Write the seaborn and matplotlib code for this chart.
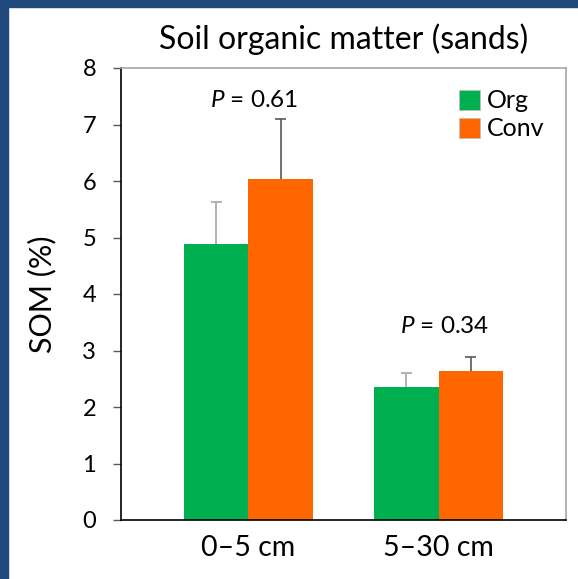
import matplotlib
matplotlib.use("Agg")
import matplotlib.pyplot as plt
import seaborn as sns
import pandas as pd
from matplotlib.patches import Rectangle, Patch

# ---- data ----
depths = ["0\u20135 cm", "5\u201330 cm"]
systems = ["Org", "Conv"]
org_means = [4.88, 2.35]
conv_means = [6.04, 2.64]
org_err = [0.74, 0.25]
conv_err = [1.05, 0.25]
p_labels = ["0.61", "0.34"]
p_y = [7.43, 3.42]
yticks = [0, 1, 2, 3, 4, 5, 6, 7, 8]

df = pd.DataFrame({
    "depth": depths * 2,
    "system": [systems[0]] * 2 + [systems[1]] * 2,
    "som": org_means + conv_means,
    "err": org_err + conv_err,
})

plt.rcParams["font.family"] = ["Lato", "DejaVu Sans"]
plt.rcParams["mathtext.fontset"] = "custom"
plt.rcParams["mathtext.it"] = "Lato:italic"
plt.rcParams["mathtext.rm"] = "Lato"

colors = {"Org": "#00B050", "Conv": "#FF6600"}
err_colors = {"Org": "#A6A6A6", "Conv": "#595959"}

fig = plt.figure(figsize=(5.78, 5.79), dpi=100)
ax = fig.add_axes([121 / 578, 1 - 520 / 579, 445 / 578, 452 / 579])

sns.barplot(data=df, x="depth", y="som", hue="system", hue_order=systems,
            order=depths, palette=colors, width=0.68, gap=0, errorbar=None,
            saturation=1, ax=ax, legend=False)

# error bars (upper only), positioned from the drawn bars
bars = [p for p in ax.patches if isinstance(p, Rectangle)]
for i, sysname in enumerate(systems):
    for j, d in enumerate(depths):
        p = bars[i * len(depths) + j]
        xc = p.get_x() + p.get_width() / 2
        row = df[(df.system == sysname) & (df.depth == d)].iloc[0]
        top = row.som + row.err
        half = p.get_width() * 0.085
        ax.vlines(xc, row.som, top, color=err_colors[sysname], linewidth=1.2, zorder=3)
        ax.hlines(top, xc - half, xc + half, color=err_colors[sysname], linewidth=1.2, zorder=3)

for j, lab in enumerate(p_labels):
    ax.text(j + 0.03, p_y[j], "$P$ = " + lab, ha="center", va="center",
            fontsize=17.5, color="black")

ax.set_xlim(-0.671, 1.671)
ax.set_ylim(0, 8)
ax.set_yticks(yticks)
ax.tick_params(axis="y", length=6, width=1, color="#595959", pad=12,
               labelsize=17)
ax.tick_params(axis="x", length=0, pad=11, labelsize=20.5)
ax.set_xlabel("")
ax.set_ylabel("SOM (%)", fontsize=22)
ax.yaxis.set_label_coords(-0.145, 0.5)
ax.set_title("Soil organic matter (sands)", fontsize=23, pad=14)

for s in ["left", "bottom"]:
    ax.spines[s].set_color("black")
    ax.spines[s].set_linewidth(1.2)
for s in ["top", "right"]:
    ax.spines[s].set_color("#A6A6A6")
    ax.spines[s].set_linewidth(1.2)

handles = [Patch(facecolor=colors[s], edgecolor="#BFBFBF", linewidth=0.6, label=s)
           for s in systems]
ax.legend(handles=handles, loc="upper right", frameon=False, fontsize=18,
          handlelength=0.85, handleheight=0.85, handletextpad=0.3,
          labelspacing=0.2, bbox_to_anchor=(0.975, 0.975), borderaxespad=0)

# dark blue slide frame (left and top)
fig.patches.append(Rectangle((0, 0), 8 / 578, 1, transform=fig.transFigure,
                             color="#1F497D", zorder=10))
fig.patches.append(Rectangle((0, 1 - 7 / 579), 1, 7 / 579, transform=fig.transFigure,
                             color="#1F497D", zorder=10))

fig.savefig("out.png", dpi=100)
